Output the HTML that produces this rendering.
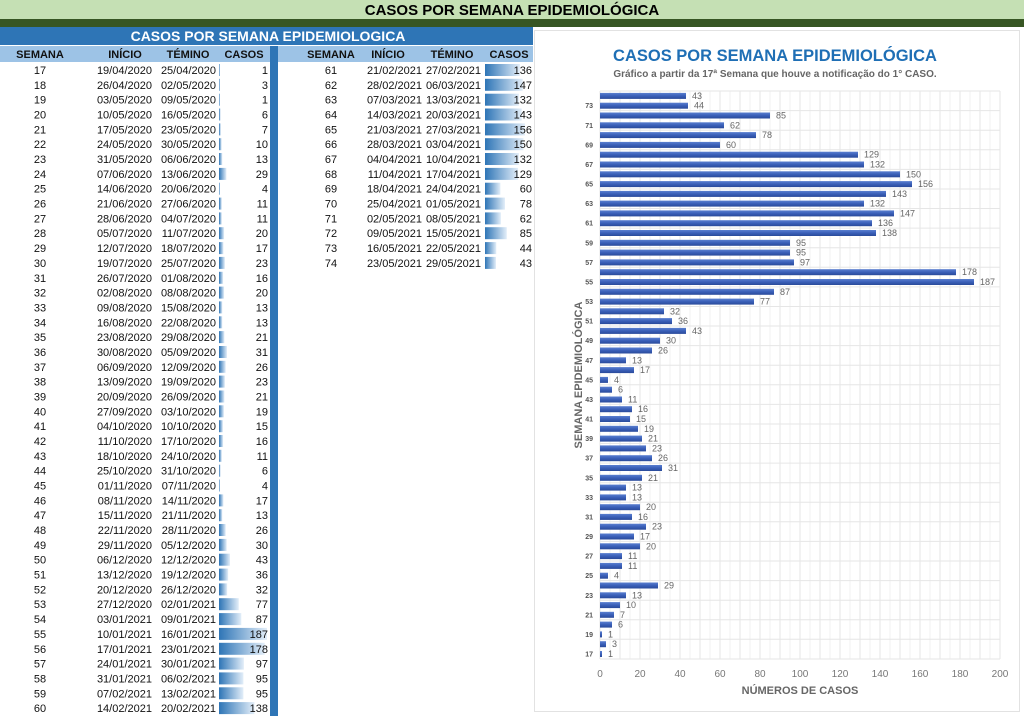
<!DOCTYPE html>
<html><head><meta charset="utf-8"><style>
html,body{margin:0;padding:0;background:#fff;}
svg{display:block;font-family:"Liberation Sans",sans-serif;}
.t text{font-size:11px;fill:#111;}
.c{text-anchor:middle}.e{text-anchor:end}
.h text{font-size:11px;font-weight:bold;fill:#111;text-anchor:middle}
.bl text{font-size:9px;fill:#666}
.yl text{font-size:7px;font-weight:bold;fill:#555;text-anchor:end}
.xl text{font-size:10px;fill:#777;text-anchor:middle}
</style></head><body>
<svg width="1024" height="716" viewBox="0 0 1024 716" xmlns="http://www.w3.org/2000/svg">
<defs>
<linearGradient id="g" x1="0" x2="1" y1="0" y2="0"><stop offset="0" stop-color="#2e75b6"/><stop offset="1" stop-color="#e3eef9"/></linearGradient>
<linearGradient id="b" x1="0" x2="0" y1="0" y2="1"><stop offset="0" stop-color="#5a7fd0"/><stop offset="0.5" stop-color="#3a5fb8"/><stop offset="1" stop-color="#2a4a9a"/></linearGradient>
</defs>
<rect x="0" y="0" width="1024" height="19" fill="#c5e0b4"/>
<text x="512" y="15" text-anchor="middle" font-size="15" font-weight="bold" fill="#000">CASOS POR SEMANA EPIDEMIOLÓGICA</text>
<rect x="0" y="19" width="1024" height="8" fill="#375623"/>
<rect x="0" y="27" width="533" height="18" fill="#2e75b6"/>
<text x="268" y="41" text-anchor="middle" font-size="14" font-weight="bold" fill="#fff">CASOS POR SEMANA EPIDEMIOLOGICA</text>
<rect x="0" y="46" width="533" height="16" fill="#9dc3e6"/>
<rect x="270" y="46" width="8" height="670" fill="#2e75b6"/>
<g class="h"><text x="40" y="58">SEMANA</text><text x="125" y="58">INÍCIO</text><text x="188" y="58">TÉMINO</text><text x="244" y="58">CASOS</text>
<text x="331" y="58">SEMANA</text><text x="388" y="58">INÍCIO</text><text x="452" y="58">TÉMINO</text><text x="509" y="58">CASOS</text></g>
<g class="t">
<g transform="translate(0,74)"><rect x="219" y="-10" width="1" height="12" fill="url(#g)"/><text x="40" class="c">17</text><text x="152" class="e">19/04/2020</text><text x="216" class="e">25/04/2020</text><text x="268" class="e">1</text></g>
<g transform="translate(0,88.8)"><rect x="219" y="-10" width="1" height="12" fill="url(#g)"/><text x="40" class="c">18</text><text x="152" class="e">26/04/2020</text><text x="216" class="e">02/05/2020</text><text x="268" class="e">3</text></g>
<g transform="translate(0,103.7)"><rect x="219" y="-10" width="1" height="12" fill="url(#g)"/><text x="40" class="c">19</text><text x="152" class="e">03/05/2020</text><text x="216" class="e">09/05/2020</text><text x="268" class="e">1</text></g>
<g transform="translate(0,118.5)"><rect x="219" y="-10" width="1.5" height="12" fill="url(#g)"/><text x="40" class="c">20</text><text x="152" class="e">10/05/2020</text><text x="216" class="e">16/05/2020</text><text x="268" class="e">6</text></g>
<g transform="translate(0,133.4)"><rect x="219" y="-10" width="1.8" height="12" fill="url(#g)"/><text x="40" class="c">21</text><text x="152" class="e">17/05/2020</text><text x="216" class="e">23/05/2020</text><text x="268" class="e">7</text></g>
<g transform="translate(0,148.2)"><rect x="219" y="-10" width="2.6" height="12" fill="url(#g)"/><text x="40" class="c">22</text><text x="152" class="e">24/05/2020</text><text x="216" class="e">30/05/2020</text><text x="268" class="e">10</text></g>
<g transform="translate(0,163)"><rect x="219" y="-10" width="3.3" height="12" fill="url(#g)"/><text x="40" class="c">23</text><text x="152" class="e">31/05/2020</text><text x="216" class="e">06/06/2020</text><text x="268" class="e">13</text></g>
<g transform="translate(0,177.9)"><rect x="219" y="-10" width="7.4" height="12" fill="url(#g)"/><text x="40" class="c">24</text><text x="152" class="e">07/06/2020</text><text x="216" class="e">13/06/2020</text><text x="268" class="e">29</text></g>
<g transform="translate(0,192.7)"><rect x="219" y="-10" width="1" height="12" fill="url(#g)"/><text x="40" class="c">25</text><text x="152" class="e">14/06/2020</text><text x="216" class="e">20/06/2020</text><text x="268" class="e">4</text></g>
<g transform="translate(0,207.6)"><rect x="219" y="-10" width="2.8" height="12" fill="url(#g)"/><text x="40" class="c">26</text><text x="152" class="e">21/06/2020</text><text x="216" class="e">27/06/2020</text><text x="268" class="e">11</text></g>
<g transform="translate(0,222.4)"><rect x="219" y="-10" width="2.8" height="12" fill="url(#g)"/><text x="40" class="c">27</text><text x="152" class="e">28/06/2020</text><text x="216" class="e">04/07/2020</text><text x="268" class="e">11</text></g>
<g transform="translate(0,237.2)"><rect x="219" y="-10" width="5.1" height="12" fill="url(#g)"/><text x="40" class="c">28</text><text x="152" class="e">05/07/2020</text><text x="216" class="e">11/07/2020</text><text x="268" class="e">20</text></g>
<g transform="translate(0,252.1)"><rect x="219" y="-10" width="4.4" height="12" fill="url(#g)"/><text x="40" class="c">29</text><text x="152" class="e">12/07/2020</text><text x="216" class="e">18/07/2020</text><text x="268" class="e">17</text></g>
<g transform="translate(0,266.9)"><rect x="219" y="-10" width="5.9" height="12" fill="url(#g)"/><text x="40" class="c">30</text><text x="152" class="e">19/07/2020</text><text x="216" class="e">25/07/2020</text><text x="268" class="e">23</text></g>
<g transform="translate(0,281.8)"><rect x="219" y="-10" width="4.1" height="12" fill="url(#g)"/><text x="40" class="c">31</text><text x="152" class="e">26/07/2020</text><text x="216" class="e">01/08/2020</text><text x="268" class="e">16</text></g>
<g transform="translate(0,296.6)"><rect x="219" y="-10" width="5.1" height="12" fill="url(#g)"/><text x="40" class="c">32</text><text x="152" class="e">02/08/2020</text><text x="216" class="e">08/08/2020</text><text x="268" class="e">20</text></g>
<g transform="translate(0,311.4)"><rect x="219" y="-10" width="3.3" height="12" fill="url(#g)"/><text x="40" class="c">33</text><text x="152" class="e">09/08/2020</text><text x="216" class="e">15/08/2020</text><text x="268" class="e">13</text></g>
<g transform="translate(0,326.3)"><rect x="219" y="-10" width="3.3" height="12" fill="url(#g)"/><text x="40" class="c">34</text><text x="152" class="e">16/08/2020</text><text x="216" class="e">22/08/2020</text><text x="268" class="e">13</text></g>
<g transform="translate(0,341.1)"><rect x="219" y="-10" width="5.4" height="12" fill="url(#g)"/><text x="40" class="c">35</text><text x="152" class="e">23/08/2020</text><text x="216" class="e">29/08/2020</text><text x="268" class="e">21</text></g>
<g transform="translate(0,356)"><rect x="219" y="-10" width="8" height="12" fill="url(#g)"/><text x="40" class="c">36</text><text x="152" class="e">30/08/2020</text><text x="216" class="e">05/09/2020</text><text x="268" class="e">31</text></g>
<g transform="translate(0,370.8)"><rect x="219" y="-10" width="6.7" height="12" fill="url(#g)"/><text x="40" class="c">37</text><text x="152" class="e">06/09/2020</text><text x="216" class="e">12/09/2020</text><text x="268" class="e">26</text></g>
<g transform="translate(0,385.6)"><rect x="219" y="-10" width="5.9" height="12" fill="url(#g)"/><text x="40" class="c">38</text><text x="152" class="e">13/09/2020</text><text x="216" class="e">19/09/2020</text><text x="268" class="e">23</text></g>
<g transform="translate(0,400.5)"><rect x="219" y="-10" width="5.4" height="12" fill="url(#g)"/><text x="40" class="c">39</text><text x="152" class="e">20/09/2020</text><text x="216" class="e">26/09/2020</text><text x="268" class="e">21</text></g>
<g transform="translate(0,415.3)"><rect x="219" y="-10" width="4.9" height="12" fill="url(#g)"/><text x="40" class="c">40</text><text x="152" class="e">27/09/2020</text><text x="216" class="e">03/10/2020</text><text x="268" class="e">19</text></g>
<g transform="translate(0,430.2)"><rect x="219" y="-10" width="3.9" height="12" fill="url(#g)"/><text x="40" class="c">41</text><text x="152" class="e">04/10/2020</text><text x="216" class="e">10/10/2020</text><text x="268" class="e">15</text></g>
<g transform="translate(0,445)"><rect x="219" y="-10" width="4.1" height="12" fill="url(#g)"/><text x="40" class="c">42</text><text x="152" class="e">11/10/2020</text><text x="216" class="e">17/10/2020</text><text x="268" class="e">16</text></g>
<g transform="translate(0,459.8)"><rect x="219" y="-10" width="2.8" height="12" fill="url(#g)"/><text x="40" class="c">43</text><text x="152" class="e">18/10/2020</text><text x="216" class="e">24/10/2020</text><text x="268" class="e">11</text></g>
<g transform="translate(0,474.7)"><rect x="219" y="-10" width="1.5" height="12" fill="url(#g)"/><text x="40" class="c">44</text><text x="152" class="e">25/10/2020</text><text x="216" class="e">31/10/2020</text><text x="268" class="e">6</text></g>
<g transform="translate(0,489.5)"><rect x="219" y="-10" width="1" height="12" fill="url(#g)"/><text x="40" class="c">45</text><text x="152" class="e">01/11/2020</text><text x="216" class="e">07/11/2020</text><text x="268" class="e">4</text></g>
<g transform="translate(0,504.4)"><rect x="219" y="-10" width="4.4" height="12" fill="url(#g)"/><text x="40" class="c">46</text><text x="152" class="e">08/11/2020</text><text x="216" class="e">14/11/2020</text><text x="268" class="e">17</text></g>
<g transform="translate(0,519.2)"><rect x="219" y="-10" width="3.3" height="12" fill="url(#g)"/><text x="40" class="c">47</text><text x="152" class="e">15/11/2020</text><text x="216" class="e">21/11/2020</text><text x="268" class="e">13</text></g>
<g transform="translate(0,534)"><rect x="219" y="-10" width="6.7" height="12" fill="url(#g)"/><text x="40" class="c">48</text><text x="152" class="e">22/11/2020</text><text x="216" class="e">28/11/2020</text><text x="268" class="e">26</text></g>
<g transform="translate(0,548.9)"><rect x="219" y="-10" width="7.7" height="12" fill="url(#g)"/><text x="40" class="c">49</text><text x="152" class="e">29/11/2020</text><text x="216" class="e">05/12/2020</text><text x="268" class="e">30</text></g>
<g transform="translate(0,563.7)"><rect x="219" y="-10" width="11" height="12" fill="url(#g)"/><text x="40" class="c">50</text><text x="152" class="e">06/12/2020</text><text x="216" class="e">12/12/2020</text><text x="268" class="e">43</text></g>
<g transform="translate(0,578.6)"><rect x="219" y="-10" width="9.2" height="12" fill="url(#g)"/><text x="40" class="c">51</text><text x="152" class="e">13/12/2020</text><text x="216" class="e">19/12/2020</text><text x="268" class="e">36</text></g>
<g transform="translate(0,593.4)"><rect x="219" y="-10" width="8.2" height="12" fill="url(#g)"/><text x="40" class="c">52</text><text x="152" class="e">20/12/2020</text><text x="216" class="e">26/12/2020</text><text x="268" class="e">32</text></g>
<g transform="translate(0,608.2)"><rect x="219" y="-10" width="19.8" height="12" fill="url(#g)"/><text x="40" class="c">53</text><text x="152" class="e">27/12/2020</text><text x="216" class="e">02/01/2021</text><text x="268" class="e">77</text></g>
<g transform="translate(0,623.1)"><rect x="219" y="-10" width="22.3" height="12" fill="url(#g)"/><text x="40" class="c">54</text><text x="152" class="e">03/01/2021</text><text x="216" class="e">09/01/2021</text><text x="268" class="e">87</text></g>
<g transform="translate(0,637.9)"><rect x="219" y="-10" width="48" height="12" fill="url(#g)"/><text x="40" class="c">55</text><text x="152" class="e">10/01/2021</text><text x="216" class="e">16/01/2021</text><text x="268" class="e">187</text></g>
<g transform="translate(0,652.8)"><rect x="219" y="-10" width="45.7" height="12" fill="url(#g)"/><text x="40" class="c">56</text><text x="152" class="e">17/01/2021</text><text x="216" class="e">23/01/2021</text><text x="268" class="e">178</text></g>
<g transform="translate(0,667.6)"><rect x="219" y="-10" width="24.9" height="12" fill="url(#g)"/><text x="40" class="c">57</text><text x="152" class="e">24/01/2021</text><text x="216" class="e">30/01/2021</text><text x="268" class="e">97</text></g>
<g transform="translate(0,682.4)"><rect x="219" y="-10" width="24.4" height="12" fill="url(#g)"/><text x="40" class="c">58</text><text x="152" class="e">31/01/2021</text><text x="216" class="e">06/02/2021</text><text x="268" class="e">95</text></g>
<g transform="translate(0,697.3)"><rect x="219" y="-10" width="24.4" height="12" fill="url(#g)"/><text x="40" class="c">59</text><text x="152" class="e">07/02/2021</text><text x="216" class="e">13/02/2021</text><text x="268" class="e">95</text></g>
<g transform="translate(0,712.1)"><rect x="219" y="-10" width="35.4" height="12" fill="url(#g)"/><text x="40" class="c">60</text><text x="152" class="e">14/02/2021</text><text x="216" class="e">20/02/2021</text><text x="268" class="e">138</text></g>

<g transform="translate(0,74)"><rect x="485" y="-10" width="34.9" height="12" fill="url(#g)"/><text x="331" class="c">61</text><text x="422" class="e">21/02/2021</text><text x="481" class="e">27/02/2021</text><text x="532" class="e">136</text></g>
<g transform="translate(0,88.8)"><rect x="485" y="-10" width="37.7" height="12" fill="url(#g)"/><text x="331" class="c">62</text><text x="422" class="e">28/02/2021</text><text x="481" class="e">06/03/2021</text><text x="532" class="e">147</text></g>
<g transform="translate(0,103.7)"><rect x="485" y="-10" width="33.9" height="12" fill="url(#g)"/><text x="331" class="c">63</text><text x="422" class="e">07/03/2021</text><text x="481" class="e">13/03/2021</text><text x="532" class="e">132</text></g>
<g transform="translate(0,118.5)"><rect x="485" y="-10" width="36.7" height="12" fill="url(#g)"/><text x="331" class="c">64</text><text x="422" class="e">14/03/2021</text><text x="481" class="e">20/03/2021</text><text x="532" class="e">143</text></g>
<g transform="translate(0,133.4)"><rect x="485" y="-10" width="40" height="12" fill="url(#g)"/><text x="331" class="c">65</text><text x="422" class="e">21/03/2021</text><text x="481" class="e">27/03/2021</text><text x="532" class="e">156</text></g>
<g transform="translate(0,148.2)"><rect x="485" y="-10" width="38.5" height="12" fill="url(#g)"/><text x="331" class="c">66</text><text x="422" class="e">28/03/2021</text><text x="481" class="e">03/04/2021</text><text x="532" class="e">150</text></g>
<g transform="translate(0,163)"><rect x="485" y="-10" width="33.9" height="12" fill="url(#g)"/><text x="331" class="c">67</text><text x="422" class="e">04/04/2021</text><text x="481" class="e">10/04/2021</text><text x="532" class="e">132</text></g>
<g transform="translate(0,177.9)"><rect x="485" y="-10" width="33.1" height="12" fill="url(#g)"/><text x="331" class="c">68</text><text x="422" class="e">11/04/2021</text><text x="481" class="e">17/04/2021</text><text x="532" class="e">129</text></g>
<g transform="translate(0,192.7)"><rect x="485" y="-10" width="15.4" height="12" fill="url(#g)"/><text x="331" class="c">69</text><text x="422" class="e">18/04/2021</text><text x="481" class="e">24/04/2021</text><text x="532" class="e">60</text></g>
<g transform="translate(0,207.6)"><rect x="485" y="-10" width="20" height="12" fill="url(#g)"/><text x="331" class="c">70</text><text x="422" class="e">25/04/2021</text><text x="481" class="e">01/05/2021</text><text x="532" class="e">78</text></g>
<g transform="translate(0,222.4)"><rect x="485" y="-10" width="15.9" height="12" fill="url(#g)"/><text x="331" class="c">71</text><text x="422" class="e">02/05/2021</text><text x="481" class="e">08/05/2021</text><text x="532" class="e">62</text></g>
<g transform="translate(0,237.2)"><rect x="485" y="-10" width="21.8" height="12" fill="url(#g)"/><text x="331" class="c">72</text><text x="422" class="e">09/05/2021</text><text x="481" class="e">15/05/2021</text><text x="532" class="e">85</text></g>
<g transform="translate(0,252.1)"><rect x="485" y="-10" width="11.3" height="12" fill="url(#g)"/><text x="331" class="c">73</text><text x="422" class="e">16/05/2021</text><text x="481" class="e">22/05/2021</text><text x="532" class="e">44</text></g>
<g transform="translate(0,266.9)"><rect x="485" y="-10" width="11" height="12" fill="url(#g)"/><text x="331" class="c">74</text><text x="422" class="e">23/05/2021</text><text x="481" class="e">29/05/2021</text><text x="532" class="e">43</text></g>
</g>

<!-- chart -->
<rect x="534.5" y="30.5" width="485" height="681" fill="#fff" stroke="#e2e2e2"/>
<text x="775" y="61" text-anchor="middle" font-size="16.5" font-weight="bold" fill="#1f6fb5">CASOS POR SEMANA EPIDEMIOLÓGICA</text>
<text x="775" y="77" text-anchor="middle" font-size="10" font-weight="bold" fill="#666">Gráfico a partir da 17ª Semana que houve a notificação do 1° CASO.</text>
<g stroke="#e6e6e6" stroke-width="1">
<path d="M610 91V659M620 91V659M630 91V659M650 91V659M670 91V659M690 91V659M710 91V659M730 91V659M750 91V659M770 91V659M790 91V659M810 91V659M830 91V659M850 91V659M870 91V659M890 91V659M910 91V659M930 91V659M950 91V659M970 91V659M990 91V659" stroke="#f0f0f0"/>
<path d="M600 91V659M620 91V659M640 91V659M660 91V659M680 91V659M700 91V659M720 91V659M740 91V659M760 91V659M780 91V659M800 91V659M820 91V659M840 91V659M860 91V659M880 91V659M900 91V659M920 91V659M940 91V659M960 91V659M980 91V659M1000 91V659"/>
<path d="M600 91H1000M600 110.6H1000M600 130.2H1000M600 149.8H1000M600 169.4H1000M600 189H1000M600 208.5H1000M600 228.1H1000M600 247.7H1000M600 267.3H1000M600 286.9H1000M600 306.5H1000M600 326H1000M600 345.6H1000M600 365.2H1000M600 384.8H1000M600 404.4H1000M600 424H1000M600 443.5H1000M600 463.1H1000M600 482.7H1000M600 502.3H1000M600 521.8H1000M600 541.4H1000M600 561H1000M600 580.6H1000M600 600.2H1000M600 619.7H1000M600 639.3H1000M600 659H1000"/>
</g>
<g fill="url(#b)">
<rect x="600" y="651" width="2" height="6"/><rect x="600" y="641.2" width="6" height="6"/><rect x="600" y="631.4" width="2" height="6"/><rect x="600" y="621.6" width="12" height="6"/><rect x="600" y="611.8" width="14" height="6"/><rect x="600" y="602.1" width="20" height="6"/><rect x="600" y="592.3" width="26" height="6"/><rect x="600" y="582.5" width="58" height="6"/><rect x="600" y="572.7" width="8" height="6"/><rect x="600" y="562.9" width="22" height="6"/><rect x="600" y="553.1" width="22" height="6"/><rect x="600" y="543.3" width="40" height="6"/><rect x="600" y="533.5" width="34" height="6"/><rect x="600" y="523.7" width="46" height="6"/><rect x="600" y="513.9" width="32" height="6"/><rect x="600" y="504.2" width="40" height="6"/><rect x="600" y="494.4" width="26" height="6"/><rect x="600" y="484.6" width="26" height="6"/><rect x="600" y="474.8" width="42" height="6"/><rect x="600" y="465" width="62" height="6"/><rect x="600" y="455.2" width="52" height="6"/><rect x="600" y="445.4" width="46" height="6"/><rect x="600" y="435.6" width="42" height="6"/><rect x="600" y="425.8" width="38" height="6"/><rect x="600" y="416" width="30" height="6"/><rect x="600" y="406.2" width="32" height="6"/><rect x="600" y="396.5" width="22" height="6"/><rect x="600" y="386.7" width="12" height="6"/><rect x="600" y="376.9" width="8" height="6"/><rect x="600" y="367.1" width="34" height="6"/><rect x="600" y="357.3" width="26" height="6"/><rect x="600" y="347.5" width="52" height="6"/><rect x="600" y="337.7" width="60" height="6"/><rect x="600" y="327.9" width="86" height="6"/><rect x="600" y="318.1" width="72" height="6"/><rect x="600" y="308.3" width="64" height="6"/><rect x="600" y="298.6" width="154" height="6"/><rect x="600" y="288.8" width="174" height="6"/><rect x="600" y="279" width="374" height="6"/><rect x="600" y="269.2" width="356" height="6"/><rect x="600" y="259.4" width="194" height="6"/><rect x="600" y="249.6" width="190" height="6"/><rect x="600" y="239.8" width="190" height="6"/><rect x="600" y="230" width="276" height="6"/><rect x="600" y="220.2" width="272" height="6"/><rect x="600" y="210.4" width="294" height="6"/><rect x="600" y="200.6" width="264" height="6"/><rect x="600" y="190.9" width="286" height="6"/><rect x="600" y="181.1" width="312" height="6"/><rect x="600" y="171.3" width="300" height="6"/><rect x="600" y="161.5" width="264" height="6"/><rect x="600" y="151.7" width="258" height="6"/><rect x="600" y="141.9" width="120" height="6"/><rect x="600" y="132.1" width="156" height="6"/><rect x="600" y="122.3" width="124" height="6"/><rect x="600" y="112.5" width="170" height="6"/><rect x="600" y="102.7" width="88" height="6"/><rect x="600" y="92.9" width="86" height="6"/>
</g>
<g class="bl">
<text x="608" y="657">1</text><text x="612" y="647.2">3</text><text x="608" y="637.4">1</text><text x="618" y="627.6">6</text><text x="620" y="617.8">7</text><text x="626" y="608.1">10</text><text x="632" y="598.3">13</text><text x="664" y="588.5">29</text><text x="614" y="578.7">4</text><text x="628" y="568.9">11</text><text x="628" y="559.1">11</text><text x="646" y="549.3">20</text><text x="640" y="539.5">17</text><text x="652" y="529.7">23</text><text x="638" y="519.9">16</text><text x="646" y="510.2">20</text><text x="632" y="500.4">13</text><text x="632" y="490.6">13</text><text x="648" y="480.8">21</text><text x="668" y="471">31</text><text x="658" y="461.2">26</text><text x="652" y="451.4">23</text><text x="648" y="441.6">21</text><text x="644" y="431.8">19</text><text x="636" y="422">15</text><text x="638" y="412.2">16</text><text x="628" y="402.5">11</text><text x="618" y="392.7">6</text><text x="614" y="382.9">4</text><text x="640" y="373.1">17</text><text x="632" y="363.3">13</text><text x="658" y="353.5">26</text><text x="666" y="343.7">30</text><text x="692" y="333.9">43</text><text x="678" y="324.1">36</text><text x="670" y="314.3">32</text><text x="760" y="304.6">77</text><text x="780" y="294.8">87</text><text x="980" y="285">187</text><text x="962" y="275.2">178</text><text x="800" y="265.4">97</text><text x="796" y="255.6">95</text><text x="796" y="245.8">95</text><text x="882" y="236">138</text><text x="878" y="226.2">136</text><text x="900" y="216.4">147</text><text x="870" y="206.6">132</text><text x="892" y="196.9">143</text><text x="918" y="187.1">156</text><text x="906" y="177.3">150</text><text x="870" y="167.5">132</text><text x="864" y="157.7">129</text><text x="726" y="147.9">60</text><text x="762" y="138.1">78</text><text x="730" y="128.3">62</text><text x="776" y="118.5">85</text><text x="694" y="108.7">44</text><text x="692" y="98.9">43</text>
</g>
<g class="yl">
<text x="593" y="656.5">17</text><text x="593" y="636.9">19</text><text x="593" y="617.3">21</text><text x="593" y="597.8">23</text><text x="593" y="578.2">25</text><text x="593" y="558.6">27</text><text x="593" y="539">29</text><text x="593" y="519.4">31</text><text x="593" y="499.9">33</text><text x="593" y="480.3">35</text><text x="593" y="460.7">37</text><text x="593" y="441.1">39</text><text x="593" y="421.5">41</text><text x="593" y="402">43</text><text x="593" y="382.4">45</text><text x="593" y="362.8">47</text><text x="593" y="343.2">49</text><text x="593" y="323.6">51</text><text x="593" y="304.1">53</text><text x="593" y="284.5">55</text><text x="593" y="264.9">57</text><text x="593" y="245.3">59</text><text x="593" y="225.7">61</text><text x="593" y="206.1">63</text><text x="593" y="186.6">65</text><text x="593" y="167">67</text><text x="593" y="147.4">69</text><text x="593" y="127.8">71</text><text x="593" y="108.2">73</text>
</g>
<g class="xl">
<text x="600" y="677">0</text><text x="640" y="677">20</text><text x="680" y="677">40</text><text x="720" y="677">60</text><text x="760" y="677">80</text><text x="800" y="677">100</text><text x="840" y="677">120</text><text x="880" y="677">140</text><text x="920" y="677">160</text><text x="960" y="677">180</text><text x="1000" y="677">200</text>
</g>
<text x="800" y="694" text-anchor="middle" font-size="11" font-weight="bold" fill="#666">NÚMEROS DE CASOS</text>
<text transform="translate(582,375) rotate(-90)" text-anchor="middle" font-size="11" font-weight="bold" fill="#666">SEMANA EPIDEMIOLÓGICA</text>
</svg>
</body></html>
